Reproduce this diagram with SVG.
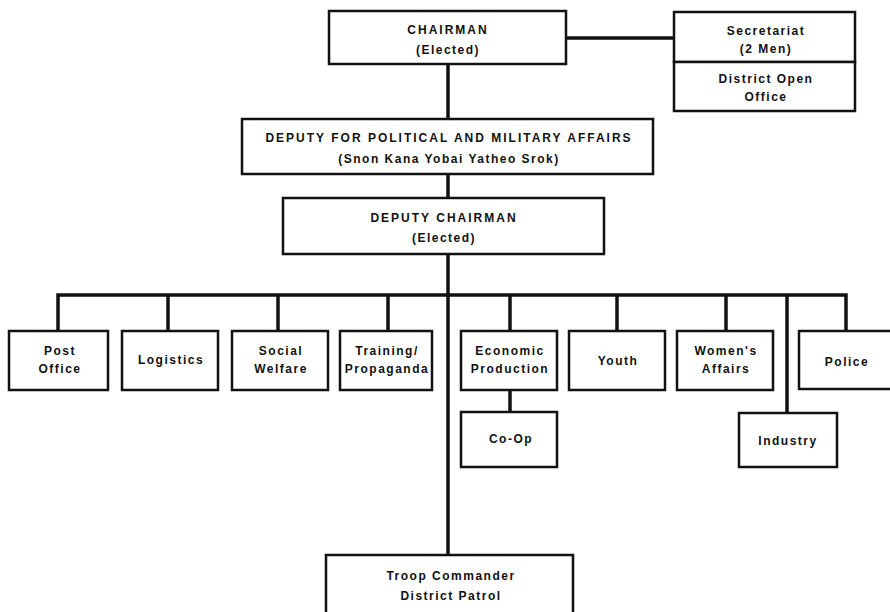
<svg xmlns="http://www.w3.org/2000/svg" width="890" height="612" viewBox="0 0 890 612">
<style>
.box{fill:#fff;stroke:#111;stroke-width:2.5}
.ln{fill:none;stroke:#111;stroke-width:3.5;stroke-linecap:square}
text{font-family:"Liberation Sans",Arial,sans-serif;font-weight:bold;font-size:12px;fill:#111;text-anchor:middle;letter-spacing:1.5px}
.cap{letter-spacing:2px}
</style>
<rect width="890" height="612" fill="#fff"/>
<g id="connectors">
<path class="ln" d="M448 64V119M566 38H675M448 174V198M448 254V555M58 295H846M58 295V331M168 295V331M278 295V331M388 295V331M510 295V331M617 295V331M726 295V331M787 295V413M846 295V331M510 390V412"/>
</g>
<g id="chairman"><rect class="box" x="329" y="11" width="237" height="53"/><text class="cap" x="448" y="34">CHAIRMAN</text><text x="448" y="54">(Elected)</text></g>
<g id="secretariat"><rect class="box" x="674" y="12" width="181" height="50"/><text x="766" y="35">Secretariat</text><text x="766" y="53">(2 Men)</text></g>
<g id="district-open-office"><rect class="box" x="674" y="62" width="181" height="49"/><text x="766" y="83">District Open</text><text x="766" y="101">Office</text></g>
<g id="deputy-political"><rect class="box" x="242" y="119" width="411" height="55"/><text class="cap" x="449" y="142">DEPUTY FOR POLITICAL AND MILITARY AFFAIRS</text><text x="449" y="163">(Snon Kana Yobai Yatheo Srok)</text></g>
<g id="deputy-chairman"><rect class="box" x="283" y="198" width="321" height="56"/><text class="cap" x="444" y="222">DEPUTY CHAIRMAN</text><text x="444" y="242">(Elected)</text></g>
<g id="post-office"><rect class="box" x="9" y="331" width="99" height="59"/><text x="60" y="355">Post</text><text x="60" y="373">Office</text></g>
<g id="logistics"><rect class="box" x="122" y="331" width="96" height="59"/><text x="171" y="364">Logistics</text></g>
<g id="social-welfare"><rect class="box" x="232" y="331" width="96" height="59"/><text x="281" y="355">Social</text><text x="281" y="373">Welfare</text></g>
<g id="training"><rect class="box" x="340" y="331" width="92" height="59"/><text x="387" y="355">Training/</text><text x="387" y="373">Propaganda</text></g>
<g id="economic"><rect class="box" x="461" y="331" width="96" height="59"/><text x="510" y="355">Economic</text><text x="510" y="373">Production</text></g>
<g id="youth"><rect class="box" x="569" y="331" width="96" height="59"/><text x="618" y="365">Youth</text></g>
<g id="womens-affairs"><rect class="box" x="677" y="331" width="96" height="59"/><text x="726" y="355">Women's</text><text x="726" y="373">Affairs</text></g>
<g id="police"><rect class="box" x="799" y="331" width="100" height="58"/><text x="847" y="366">Police</text></g>
<g id="co-op"><rect class="box" x="461" y="412" width="96" height="55"/><text x="511" y="443">Co-Op</text></g>
<g id="industry"><rect class="box" x="739" y="413" width="98" height="54"/><text x="788" y="445">Industry</text></g>
<g id="troop-commander"><rect class="box" x="326" y="555" width="247" height="70"/><text x="451" y="580">Troop Commander</text><text x="451" y="600">District Patrol</text></g>
</svg>
